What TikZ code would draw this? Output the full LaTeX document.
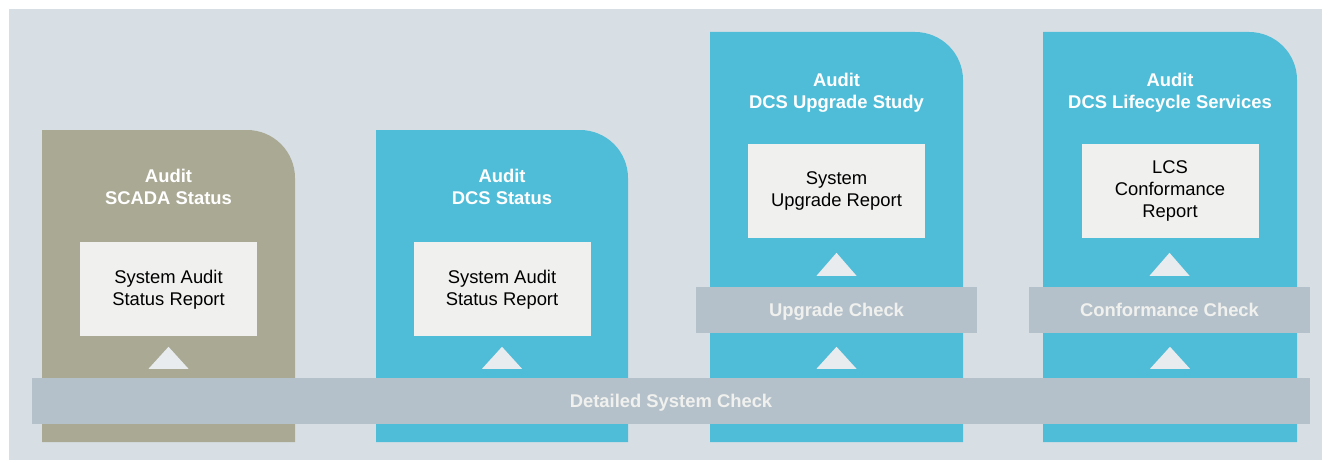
\documentclass[tikz,border=0pt]{standalone}
\usepackage{fontspec}
\setmainfont{Liberation Sans}
\usepackage{xcolor}
\usetikzlibrary{positioning, calc}

\definecolor{bgcol}{HTML}{D7DFE5}
\definecolor{scadacol}{HTML}{AAA994}
\definecolor{dcscol}{HTML}{50BDD8}
\definecolor{barcol}{HTML}{B5C1CA}
\definecolor{repcol}{HTML}{F0F1EE}
\definecolor{tricol}{HTML}{E8ECEF}

\begin{document}
\begin{tikzpicture}[
  x=1pt, y=-1pt,
  title/.style={align=center, text=white, font=\fontsize{18.4}{22}\selectfont\bfseries},
  report/.style={rectangle, fill=repcol, minimum width=177pt, minimum height=94pt, align=center, font=\fontsize{18.4}{22}\selectfont},
  check/.style={rectangle, fill=barcol, minimum height=46pt, text height=13.2pt, text depth=0pt, text=repcol, font=\fontsize{18.4}{22}\selectfont\bfseries},
  tri/.style={fill=tricol}
]
  \useasboundingbox (0,0) rectangle (1322,460);
  \fill[bgcol] (9,9) rectangle (1322,460);

  % columns, only the top right corner rounded
  \fill[scadacol] (42,442) -- (42,130) [rounded corners=48pt] -- (295,130) [sharp corners] -- (295,442) -- cycle;
  \fill[dcscol] (376,442) -- (376,130) [rounded corners=48pt] -- (628,130) [sharp corners] -- (628,442) -- cycle;
  \fill[dcscol] (710,442) -- (710,32) [rounded corners=48pt] -- (963,32) [sharp corners] -- (963,442) -- cycle;
  \fill[dcscol] (1043,442) -- (1043,32) [rounded corners=48pt] -- (1297,32) [sharp corners] -- (1297,442) -- cycle;

  \node[title] (scada) at (168.5,187) {Audit\\SCADA Status};
  \node[title] (dcs) at (502,187) {Audit\\DCS Status};
  \node[title] (upgrade) at (836.5,92.5) {Audit\\DCS Upgrade Study};
  \node[title] (lcs) at (1170,92.5) {Audit\\DCS Lifecycle Services};

  \node[report, below=34pt of scada] (rep1) {System Audit\\Status Report};
  \node[report, below=34pt of dcs] (rep2) {System Audit\\Status Report};
  \node[report, below=28.5pt of upgrade] (rep3) {System\\Upgrade Report};
  \node[report, below=28.5pt of lcs] (rep4) {LCS\\Conformance\\Report};

  \node[check, minimum width=1278pt] (detail) at (671,401) {Detailed System Check};
  \node[check, minimum width=281pt] (upcheck) at (836.5,310) {Upgrade Check};
  \node[check, minimum width=281pt] (confcheck) at (1169.5,310) {Conformance Check};

  % triangles pointing up
  \foreach \c in {rep1, rep2, rep3, rep4} {
    \fill[tri] ($(\c.center |- detail.north)+(-20,-9)$) -- ++(40,0) -- ++(-20,-22) -- cycle;
  }
  \foreach \c in {upcheck, confcheck} {
    \fill[tri] ($(\c.north)+(-20,-11)$) -- ++(40,0) -- ++(-20,-23) -- cycle;
  }
\end{tikzpicture}
\end{document}
